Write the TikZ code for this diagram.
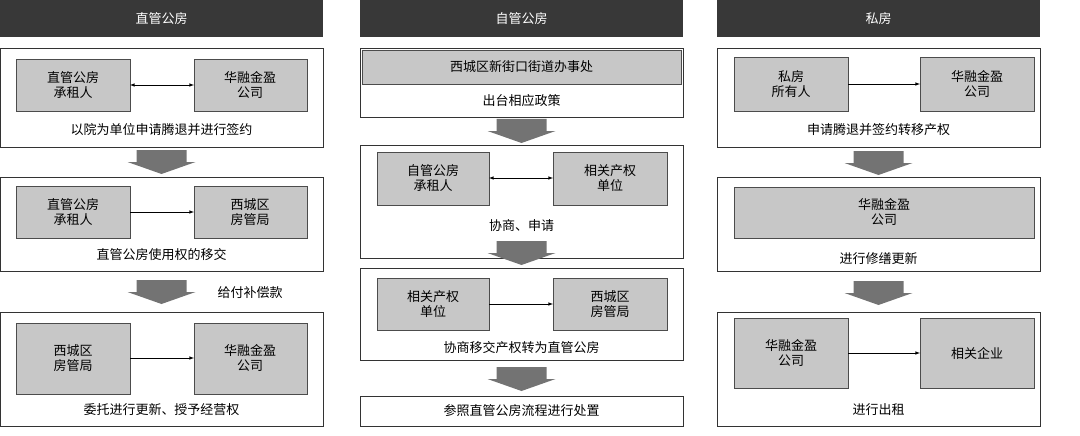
\documentclass[tikz,border=0pt]{standalone}
\usepackage{fontspec}
\setmainfont{Noto Sans CJK SC}
\begin{document}
\begin{tikzpicture}[x=1pt,y=-1pt,
 hdr/.style={fill=black!78,draw=black!78},
 outer/.style={draw=black!80,line width=0.8pt,fill=white},
 inner/.style={draw=black!70,line width=0.8pt,fill=black!22},
 txt/.style={font=\fontsize{13}{15}\selectfont,align=center,inner sep=0},
 con/.style={-latex,line width=0.6pt}]
\useasboundingbox (0,0) rectangle (1080,436);
\newcommand{\bigarrow}[3]{\fill[black!55] (#1-25,#2) -- (#1+25,#2) -- (#1+25,#2+12) -- (#1+34,#2+12) -- (#1,#3) -- (#1-34,#2+12) -- (#1-25,#2+12) -- cycle;}
% headers
\foreach \x/\t/\n in {0/直管公房/h1,360/自管公房/h2,717/私房/h3}{
 \fill[black!78] (\x,0) rectangle (\x+323,37);
 \node[txt,text=white] (\n) at (\x+161.5,18.5) {\t};}
% ---- column 1
\draw[outer] (0,48) rectangle (323,147);
\draw[inner] (16,59) rectangle (130,111); \node[txt] (a1) at (73,85) {直管公房\\承租人};
\draw[inner] (194,59) rectangle (307,111); \node[txt] (a2) at (250,85) {华融金盈\\公司};
\draw[latex-latex,line width=0.6pt] (130,85) -- (194,85);
\node[txt] (a3) at (161.5,130) {以院为单位申请腾退并进行签约};
\bigarrow{161.5}{150}{174}
\draw[outer] (0,177) rectangle (323,271);
\draw[inner] (16,186) rectangle (130,238); \node[txt] (b1) at (73,212) {直管公房\\承租人};
\draw[inner] (194,186) rectangle (307,238); \node[txt] (b2) at (250,212) {西城区\\房管局};
\draw[con] (130,212) -- (194,212);
\node[txt] (b3) at (161.5,255) {直管公房使用权的移交};
\bigarrow{161.5}{280}{304}
\node[txt] (lab) at (250,293) {给付补偿款};
\draw[outer] (0,312) rectangle (323,426);
\draw[inner] (16,323) rectangle (130,394); \node[txt] (c1) at (73,358) {西城区\\房管局};
\draw[inner] (194,323) rectangle (307,394); \node[txt] (c2) at (250,358) {华融金盈\\公司};
\draw[con] (130,358) -- (194,358);
\node[txt] (c3) at (161.5,410) {委托进行更新、授予经营权};
% ---- column 2
\draw[outer] (360,48) rectangle (683,117);
\draw[inner] (362,50) rectangle (681,84); \node[txt] (d1) at (521.5,67) {西城区新街口街道办事处};
\node[txt] (d2) at (521.5,101) {出台相应政策};
\bigarrow{521.5}{119}{143}
\draw[outer] (360,145) rectangle (683,258);
\draw[inner] (377,152) rectangle (489,205); \node[txt] (e1) at (433,178) {自管公房\\承租人};
\draw[inner] (553,152) rectangle (667,205); \node[txt] (e2) at (610,178) {相关产权\\单位};
\draw[latex-latex,line width=0.6pt] (489,178) -- (553,178);
\node[txt] (e3) at (521.5,226) {协商、申请};
\bigarrow{521.5}{241}{265}
\draw[outer] (360,268) rectangle (683,360);
\draw[inner] (377,278) rectangle (489,330); \node[txt] (f1) at (433,304) {相关产权\\单位};
\draw[inner] (553,278) rectangle (667,330); \node[txt] (f2) at (610,304) {西城区\\房管局};
\draw[con] (489,304) -- (553,304);
\node[txt] (f3) at (521.5,348) {协商移交产权转为直管公房};
\bigarrow{521.5}{367}{391}
\draw[outer] (360,396) rectangle (683,426);
\node[txt] (g1) at (521.5,411) {参照直管公房流程进行处置};
% ---- column 3
\draw[outer] (717,48) rectangle (1040,147);
\draw[inner] (734,57) rectangle (848,111); \node[txt] (i1) at (791,84) {私房\\所有人};
\draw[inner] (920,57) rectangle (1034,111); \node[txt] (i2) at (977,84) {华融金盈\\公司};
\draw[con] (848,84) -- (920,84);
\node[txt] (i3) at (878.5,130) {申请腾退并签约转移产权};
\bigarrow{878.5}{151}{175}
\draw[outer] (717,177) rectangle (1040,271);
\draw[inner] (734,187) rectangle (1034,238); \node[txt] (j1) at (884,212) {华融金盈\\公司};
\node[txt] (j2) at (878.5,259) {进行修缮更新};
\bigarrow{878.5}{281}{305}
\draw[outer] (717,312) rectangle (1040,426);
\draw[inner] (734,318) rectangle (848,388); \node[txt] (k1) at (791,353) {华融金盈\\公司};
\draw[inner] (920,318) rectangle (1034,388); \node[txt] (k2) at (977,353) {相关企业};
\draw[con] (848,353) -- (920,353);
\node[txt] (k3) at (878.5,410) {进行出租};
\end{tikzpicture}
\end{document}
